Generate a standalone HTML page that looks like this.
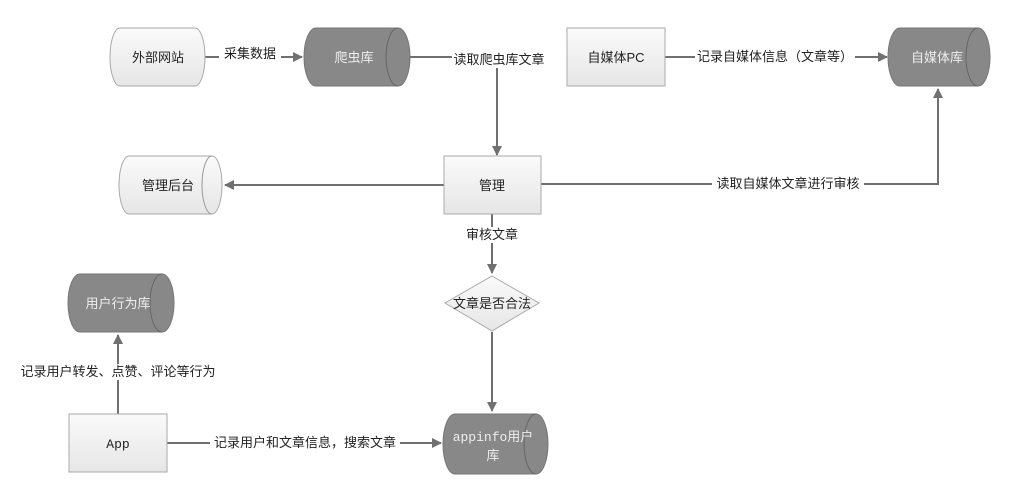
<!DOCTYPE html>
<html><head><meta charset="utf-8"><style>
html,body{margin:0;padding:0;background:#fff;}
svg{display:block;font-family:"Liberation Sans","Noto Sans CJK SC",sans-serif;}
text{font-size:13px;fill:#222;}
</style></head><body>
<svg width="1025" height="494" viewBox="0 0 1025 494" xmlns="http://www.w3.org/2000/svg">
<defs>
<linearGradient id="lg" x1="0" y1="0" x2="0" y2="1"><stop offset="0" stop-color="#fafafa"/><stop offset="1" stop-color="#e6e6e6"/></linearGradient>
<marker id="ar" markerWidth="10" markerHeight="10" refX="9" refY="5" orient="auto" markerUnits="userSpaceOnUse"><path d="M0,0 L10,5 L0,10 z" fill="#707070"/></marker>
</defs>
<g stroke="#707070" stroke-width="2" fill="none">
<path d="M205,57 H302" marker-end="url(#ar)"/>
<path d="M410,57 H497 V155" marker-end="url(#ar)"/>
<path d="M665,57 H887" marker-end="url(#ar)"/>
<path d="M444,185 H225" marker-end="url(#ar)"/>
<path d="M541,184 H938 V89" marker-end="url(#ar)"/>
<path d="M492,214 V273" marker-end="url(#ar)"/>
<path d="M492,332 V411" marker-end="url(#ar)"/>
<path d="M167,443 H441" marker-end="url(#ar)"/>
<path d="M118,414 V335" marker-end="url(#ar)"/>
</g>
<!-- 外部网站 -->
<path d="M120,28 H195 A10,29 0 0 1 195,86 H120 A10,29 0 0 1 120,28 Z" fill="url(#lg)" stroke="#aaa"/>
<text x="158" y="62" text-anchor="middle">外部网站</text>
<!-- 爬虫库 -->
<path d="M316,28 H398 A12,29 0 0 1 398,86 H316 A12,29 0 0 1 316,28 Z" fill="#888" stroke="#777"/>
<path d="M398,28 A12,29 0 0 0 398,86" fill="none" stroke="#666"/>
<text x="354" y="62" text-anchor="middle" style="fill:#eee">爬虫库</text>
<!-- 自媒体PC -->
<rect x="567" y="28" width="98" height="58" fill="url(#lg)" stroke="#aaa"/>
<text x="616" y="62" text-anchor="middle">自媒体PC</text>
<!-- 自媒体库 -->
<path d="M900,28 H978 A12,29 0 0 1 978,86 H900 A12,29 0 0 1 900,28 Z" fill="#888" stroke="#777"/>
<path d="M978,28 A12,29 0 0 0 978,86" fill="none" stroke="#666"/>
<text x="937" y="62" text-anchor="middle" style="fill:#eee">自媒体库</text>
<!-- 管理 -->
<rect x="444" y="156" width="97" height="58" fill="url(#lg)" stroke="#aaa"/>
<text x="492" y="190" text-anchor="middle">管理</text>
<!-- 管理后台 -->
<path d="M129,156 H212 A10,29 0 0 1 212,214 H129 A10,29 0 0 1 129,156 Z" fill="url(#lg)" stroke="#aaa"/>
<path d="M212,156 A10,29 0 0 0 212,214" fill="none" stroke="#999"/>
<text x="168" y="190" text-anchor="middle">管理后台</text>
<!-- diamond -->
<path d="M492,276 L539,303 L492,331 L445,303 Z" fill="url(#lg)" stroke="#aaa"/>
<text x="492" y="308" text-anchor="middle">文章是否合法</text>
<!-- appinfo -->
<path d="M455,414 H536 A12,30 0 0 1 536,474 H455 A12,30 0 0 1 455,414 Z" fill="#888" stroke="#777"/>
<path d="M536,414 A12,30 0 0 0 536,474" fill="none" stroke="#666"/>
<text x="493" y="441" text-anchor="middle" style="fill:#eee"><tspan style="font-family:'Liberation Mono',monospace">appinfo</tspan>用户</text>
<text x="493" y="460" text-anchor="middle" style="fill:#eee">库</text>
<!-- 用户行为库 -->
<path d="M80,274 H162 A12,29 0 0 1 162,332 H80 A12,29 0 0 1 80,274 Z" fill="#888" stroke="#777"/>
<path d="M162,274 A12,29 0 0 0 162,332" fill="none" stroke="#666"/>
<text x="118" y="308" text-anchor="middle" style="fill:#eee">用户行为库</text>
<!-- App -->
<rect x="69" y="414" width="98" height="58" fill="url(#lg)" stroke="#aaa"/>
<text x="118" y="448" text-anchor="middle" style="font-family:'Liberation Mono',monospace">App</text>
<!-- labels -->
<g>
<rect x="219" y="46" width="62" height="16" fill="#fff"/><text x="250" y="58" text-anchor="middle">采集数据</text>
<rect x="452" y="52" width="94" height="16" fill="#fff"/><text x="499" y="64" text-anchor="middle">读取爬虫库文章</text>
<rect x="695" y="49" width="160" height="16" fill="#fff"/><text x="775" y="61" text-anchor="middle">记录自媒体信息（文章等）</text>
<rect x="712" y="176" width="152" height="16" fill="#fff"/><text x="788" y="188" text-anchor="middle">读取自媒体文章进行审核</text>
<rect x="464" y="227" width="56" height="16" fill="#fff"/><text x="492" y="239" text-anchor="middle">审核文章</text>
<rect x="210" y="435" width="190" height="16" fill="#fff"/><text x="305" y="447" text-anchor="middle">记录用户和文章信息，搜索文章</text>
<rect x="16" y="364" width="204" height="16" fill="#fff"/><text x="118" y="376" text-anchor="middle">记录用户转发、点赞、评论等行为</text>
</g>
</svg>
</body></html>
